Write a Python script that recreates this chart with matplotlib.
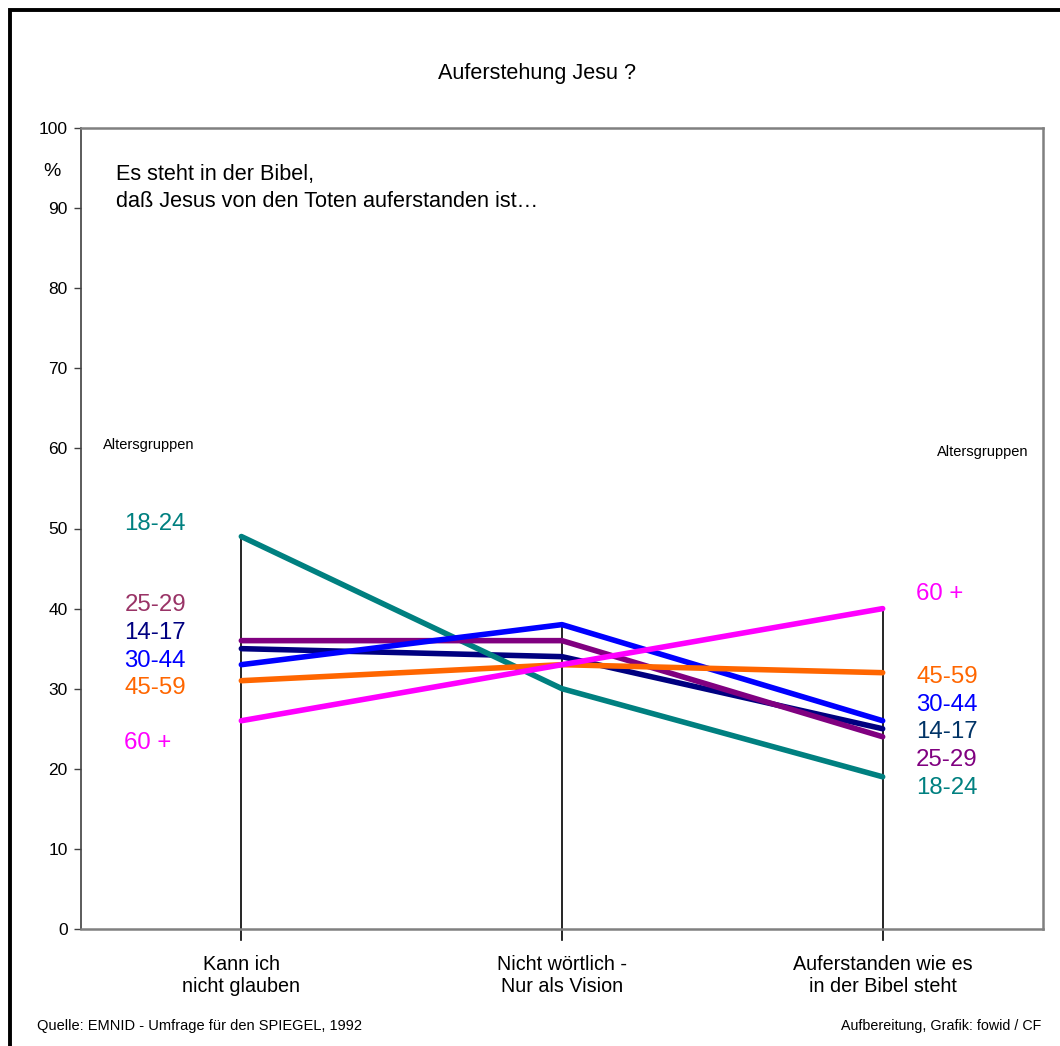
import numpy as np
import matplotlib.pyplot as plt
from matplotlib.patches import Rectangle

plt.rcParams['font.family'] = ['Liberation Sans', 'DejaVu Sans']

# Daten (Prozent)
categories = ["Kann ich\nnicht glauben", "Nicht wörtlich -\nNur als Vision", "Auferstanden wie es\nin der Bibel steht"]
groups = ["14-17", "18-24", "25-29", "30-44", "45-59", "60 +"]
v_14_17 = [35, 34, 25]
v_18_24 = [49, 30, 19]
v_25_29 = [36, 36, 24]
v_30_44 = [33, 38, 26]
v_45_59 = [31, 33, 32]
v_60 = [26, 33, 40]
values = [v_14_17, v_18_24, v_25_29, v_30_44, v_45_59, v_60]
line_colors = ["#000080", "#008080", "#800080", "#0000FF", "#FF6600", "#FF00FF"]

# Beschriftungen links / rechts (Reihenfolge von oben)
left_labels = ["18-24", "25-29", "14-17", "30-44", "45-59", "60 +"]
left_colors = ["#008080", "#993366", "#000080", "#0000FF", "#FF6600", "#FF00FF"]
left_y = [50.6, 40.4, 36.9, 33.4, 30.1, 23.2]
right_labels = ["60 +", "45-59", "30-44", "14-17", "25-29", "18-24"]
right_colors = ["#FF00FF", "#FF6600", "#0000FF", "#003366", "#800080", "#008080"]
right_y = [41.8, 31.5, 28.0, 24.6, 21.1, 17.6]

fig = plt.figure(figsize=(10.6, 10.46), dpi=100)
ax = fig.add_axes([81 / 1060, 1 - 929 / 1046, 962 / 1060, 801 / 1046])

x = np.arange(len(categories)) + 0.5

# Fallinien vom Maximum bis unter die Achse
for i in range(len(categories)):
    top = max(v[i] for v in values)
    ax.plot([x[i], x[i]], [top, -1.4], color="black", lw=1.2, clip_on=False, zorder=2)

for v, c in zip(values, line_colors):
    ax.plot(x, v, color=c, lw=4.0, solid_capstyle="round", solid_joinstyle="round", zorder=3)

ax.set_xlim(0, 3)
ax.set_ylim(0, 100)
ax.set_yticks(range(0, 101, 10))
ax.set_xticks([])
ax.tick_params(axis="y", length=5, width=1, color="#404040", labelsize=12.5, pad=4.5)
for side in ["top", "right", "bottom"]:
    ax.spines[side].set_color("#808080")
    ax.spines[side].set_linewidth(1.8)
ax.spines["left"].set_color("#404040")
ax.spines["left"].set_linewidth(1.2)

for i, cat in enumerate(categories):
    ax.text(x[i], -3.2, cat, ha="center", va="top", fontsize=14.2, linespacing=1.25)

ax.text(-0.09, 94.6, "%", ha="center", va="center", fontsize=14)
ax.text(0.11, 95.5, "Es steht in der Bibel,\ndaß Jesus von den Toten auferstanden ist…",
        ha="left", va="top", fontsize=15.6, linespacing=1.4)

ax.text(0.07, 60.4, "Altersgruppen", ha="left", va="center", fontsize=10.5)
ax.text(2.67, 59.5, "Altersgruppen", ha="left", va="center", fontsize=10.5)

for lab, c, yy in zip(left_labels, left_colors, left_y):
    ax.text(0.135, yy, lab, color=c, ha="left", va="center", fontsize=17.3)
for lab, c, yy in zip(right_labels, right_colors, right_y):
    ax.text(2.604, yy, lab, color=c, ha="left", va="center", fontsize=17.3)

fig.text(537 / 1060, 1 - 74 / 1046, "Auferstehung Jesu ?", ha="center", va="center", fontsize=15.6)
fig.text(37 / 1060, 1 - 1026 / 1046, "Quelle: EMNID - Umfrage für den SPIEGEL, 1992",
         ha="left", va="center", fontsize=10.5)
fig.text(1041 / 1060, 1 - 1026 / 1046, "Aufbereitung, Grafik: fowid / CF",
         ha="right", va="center", fontsize=10.3)

# äußerer Rahmen
fig.patches.append(Rectangle((9.5 / 1060, -0.05), 1.2, 1 - 9.5 / 1046 + 0.05,
                             transform=fig.transFigure, fill=False,
                             edgecolor="black", lw=2.8, zorder=0))

fig.savefig("out.png", dpi=100)
